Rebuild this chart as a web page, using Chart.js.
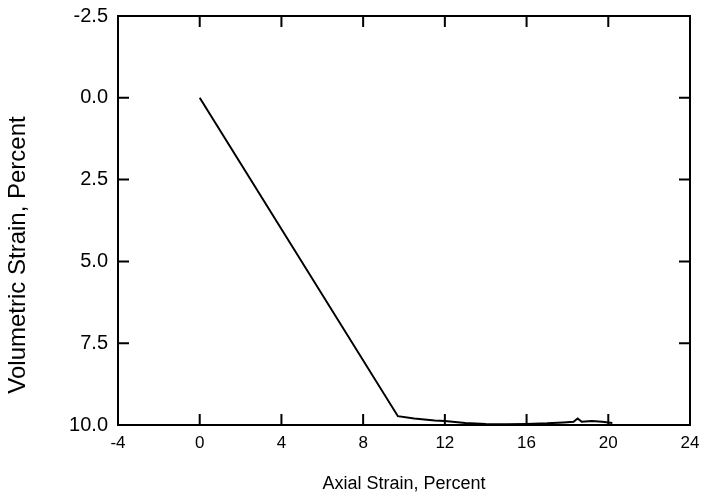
<!DOCTYPE html>
<html>
<head>
<meta charset="utf-8">
<script src="https://cdn.jsdelivr.net/npm/chart.js@4"></script>
<style>
    html, body { margin: 0; padding: 0; background: #fff; }
    #wrap { width: 715px; height: 497px; }
</style>
</head>
<body>
<div id="wrap"><canvas id="myChart" width="715" height="497"></canvas></div>
<script>
// values
const axialStrain = [0, 9.7, 10.5, 11.5, 12.0, 13.0, 14.0, 15.0, 16.0, 17.0, 17.8, 18.3, 18.5, 18.7, 19.2, 19.7, 20.2];
const volStrain   = [0, 9.73, 9.80, 9.86, 9.88, 9.94, 9.97, 9.98, 9.97, 9.95, 9.92, 9.90, 9.80, 9.90, 9.88, 9.90, 9.94];

const xTicks = [-4, 0, 4, 8, 12, 16, 20, 24];
const yTicks = [-2.5, 0, 2.5, 5, 7.5, 10];
const yTitle = 'Volumetric Strain, Percent';

const points = axialStrain.map((x, i) => ({ x: x, y: volStrain[i] }));

// frame + inward tick marks on all four sides, and the y title
// (sits a bit below the plot centre in the reference)
const frameTicks = {
    id: 'frameTicks',
    afterDraw(chart) {
        const ctx = chart.ctx;
        const area = chart.chartArea;
        const xs = chart.scales.x;
        const ys = chart.scales.y;
        const len = 11;
        ctx.save();
        ctx.strokeStyle = '#000';
        ctx.lineWidth = 2;
        ctx.strokeRect(area.left, area.top, area.right - area.left, area.bottom - area.top);
        ctx.beginPath();
        xTicks.forEach((v) => {
            const px = xs.getPixelForValue(v);
            ctx.moveTo(px, area.bottom);
            ctx.lineTo(px, area.bottom - len);
            ctx.moveTo(px, area.top);
            ctx.lineTo(px, area.top + len);
        });
        yTicks.forEach((v) => {
            const py = ys.getPixelForValue(v);
            ctx.moveTo(area.left, py);
            ctx.lineTo(area.left + len, py);
            ctx.moveTo(area.right, py);
            ctx.lineTo(area.right - len, py);
        });
        ctx.stroke();

        ctx.translate(18, 255);
        ctx.rotate(-Math.PI / 2);
        ctx.fillStyle = '#000';
        ctx.font = '24px "Liberation Sans", Arial';
        ctx.textAlign = 'center';
        ctx.textBaseline = 'middle';
        ctx.fillText(yTitle, 0, 0);
        ctx.restore();
    }
};

const ctx = document.getElementById('myChart').getContext('2d');
new Chart(ctx, {
    type: 'scatter',
    data: {
        datasets: [
            {
                data: points,
                showLine: true,
                borderColor: '#000',
                borderWidth: 2,
                pointRadius: 0,
                tension: 0,
            },
        ],
    },
    options: {
        responsive: false,
        animation: false,
        layout: { padding: { top: 16, right: 25, left: 0, bottom: 0 } },
        plugins: {
            legend: { display: false },
            tooltip: { enabled: false },
        },
        scales: {
            x: {
                type: 'linear',
                min: -4,
                max: 24,
                afterBuildTicks: (scale) => { scale.ticks = xTicks.map((v) => ({ value: v })); },
                afterFit: (scale) => { scale.height = 72; },
                grid: { display: false, drawTicks: false, tickLength: 0 },
                border: { display: false },
                ticks: {
                    color: '#000',
                    padding: 8,
                    font: { family: 'Liberation Sans, Arial', size: 17 },
                },
                title: {
                    display: true,
                    text: 'Axial Strain, Percent',
                    color: '#000',
                    font: { family: 'Liberation Sans, Arial', size: 18 },
                    padding: { top: 6, bottom: 2 },
                },
            },
            y: {
                type: 'linear',
                reverse: true,
                min: -2.5,
                max: 10,
                afterBuildTicks: (scale) => { scale.ticks = yTicks.map((v) => ({ value: v })); },
                afterFit: (scale) => {
                    scale.width = 118;
                    scale.paddingTop = 0;
                    scale.paddingBottom = 0;
                },
                grid: { display: false, drawTicks: false, tickLength: 0 },
                border: { display: false },
                ticks: {
                    color: '#000',
                    padding: 10,
                    font: { family: 'Liberation Sans, Arial', size: 20 },
                    callback: (v) => Number(v).toFixed(1),
                },
                title: { display: false },
            },
        },
    },
    plugins: [frameTicks],
});
</script>
</body>
</html>
